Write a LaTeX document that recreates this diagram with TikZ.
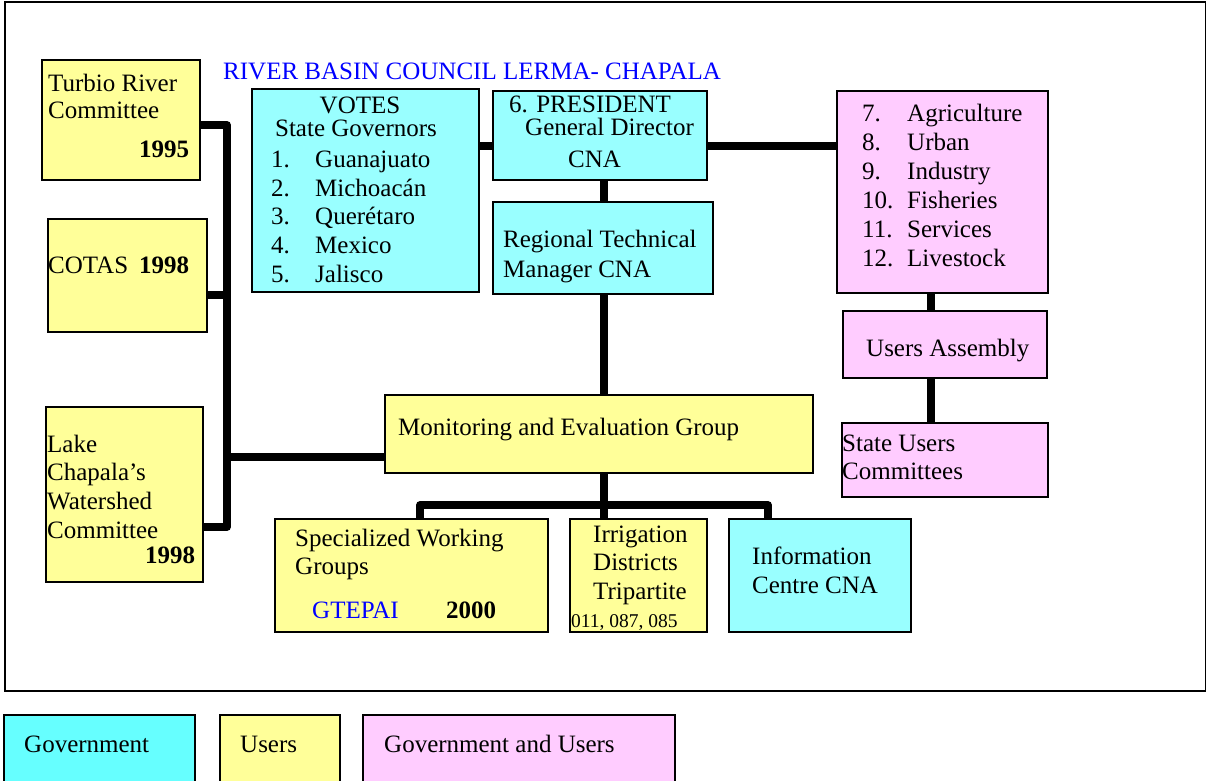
\documentclass[tikz,border=0pt]{standalone}
\usepackage{fontspec}
\setmainfont{Liberation Serif}
\definecolor{govc}{HTML}{99FFFF}
\definecolor{govleg}{HTML}{66FFFF}
\definecolor{usrc}{HTML}{FFFF99}
\definecolor{bothc}{HTML}{FFCCFF}
\definecolor{titleblue}{HTML}{0000FF}
\begin{document}
\begin{tikzpicture}[x=1pt,y=-1pt,
  box/.style={draw,line width=1.4pt,anchor=north west,inner sep=0,outer sep=0},
  gov/.style={box,fill=govc},
  usr/.style={box,fill=usrc},
  both/.style={box,fill=bothc},
  txt/.style={anchor=base west,inner sep=0,font=\fontsize{25}{29}\selectfont},
  ctxt/.style={txt,anchor=base},
  btxt/.style={txt,font=\fontsize{25}{29}\selectfont\bfseries},
  stxt/.style={txt,font=\fontsize{19.5}{23}\selectfont},
  link/.style={line width=7.5pt}]
\clip (0,0) rectangle (1206,780);
\useasboundingbox (0,0) rectangle (1206,780);
\fill[white] (0,0) rectangle (1206,780);
\node[draw,line width=1.6pt,anchor=north west,inner sep=0,minimum width=1201pt,minimum height=689pt] (frame) at (4,1) {};

% boxes
\node[usr,minimum width=158pt,minimum height=120pt] (turbio) at (42,60) {};
\node[usr,minimum width=159pt,minimum height=113pt] (cotas) at (48,219) {};
\node[usr,minimum width=157pt,minimum height=175pt] (lake) at (46,407) {};
\node[gov,minimum width=227pt,minimum height=203pt] (votes) at (252,89) {};
\node[gov,minimum width=214pt,minimum height=89pt] (pres) at (493,91) {};
\node[gov,minimum width=220pt,minimum height=92pt] (reg) at (493,202) {};
\node[both,minimum width=211pt,minimum height=202pt] (pink) at (837,91) {};
\node[both,minimum width=204pt,minimum height=67pt] (ua) at (843,311) {};
\node[both,minimum width=206pt,minimum height=74pt] (suc) at (842,423) {};
\node[usr,minimum width=428pt,minimum height=78pt] (mon) at (385,395) {};
\node[usr,minimum width=273pt,minimum height=113pt] (spec) at (275,519) {};
\node[usr,minimum width=137pt,minimum height=113pt] (irr) at (570,519) {};
\node[gov,minimum width=182pt,minimum height=113pt] (info) at (729,519) {};
\node[box,fill=govleg,minimum width=191pt,minimum height=80pt] (lg) at (4,715) {};
\node[usr,minimum width=120pt,minimum height=80pt] (lu) at (220,715) {};
\node[both,minimum width=312pt,minimum height=80pt] (lb) at (363,715) {};

% connectors
\coordinate (bt) at (227,125);
\coordinate (bb) at (227,527);
\draw[link,line join=round] (turbio.east |- bt) -- (bt) -- (bb) -- (lake.east |- bb);
\draw[link] (cotas.east |- 0,295) -- (bt |- 0,295);
\draw[link] (bt |- 0,457) -- (mon.west |- 0,457);
\draw[link] (votes.east |- 0,146) -- (pres.west |- 0,146);
\draw[link] (pres.east |- 0,146) -- (pink.west |- 0,146);
\draw[link] (pres.south -| 604,0) -- (reg.north -| 604,0);
\draw[link] (reg.south -| 604,0) -- (mon.north -| 604,0);
\draw[link] (mon.south -| 604,0) -- (irr.north -| 604,0);
\coordinate (bl) at (420,505);
\coordinate (br) at (768,505);
\draw[link,line join=round] (spec.north -| bl) -- (bl) -- (br) -- (info.north -| br);
\draw[link] (pink.south -| 931,0) -- (ua.north -| 931,0);
\draw[link] (ua.south -| 931,0) -- (suc.north -| 931,0);

% texts
\node[txt,text=titleblue] (title) at (223,79) {RIVER BASIN COUNCIL LERMA- CHAPALA};
\node[txt] (tu1) at (48,91) {Turbio River};
\node[txt] (tu2) at (48,118) {Committee};
\node[btxt] (tu3) at (139,157) {1995};
\node[txt] (co1) at (48,273) {COTAS};
\node[btxt] (co2) at (139,273) {1998};
\node[txt] (la1) at (47,452) {Lake};
\node[txt] (la2) at (47,480) {Chapala’s};
\node[txt] (la3) at (47,509) {Watershed};
\node[txt] (la4) at (47,538) {Committee};
\node[btxt] (la5) at (145,563) {1998};
\node[ctxt] (vo1) at (360,113) {VOTES};
\node[ctxt] (vo2) at (356,136) {State Governors};
\node[txt] (vn1) at (271,167) {1.};
\node[txt] (vs1) at (315,167) {Guanajuato};
\node[txt] (vn2) at (271,196) {2.};
\node[txt] (vs2) at (315,196) {Michoacán};
\node[txt] (vn3) at (271,224) {3.};
\node[txt] (vs3) at (315,224) {Querétaro};
\node[txt] (vn4) at (271,253) {4.};
\node[txt] (vs4) at (315,253) {Mexico};
\node[txt] (vn5) at (271,282) {5.};
\node[txt] (vs5) at (315,282) {Jalisco};
\node[txt] (pr1) at (509,112) {6. PRESIDENT};
\node[txt] (pr2) at (525,135) {General Director};
\node[txt] (pr3) at (568,167) {CNA};
\node[txt] (re1) at (503,247) {Regional Technical};
\node[txt] (re2) at (503,277) {Manager CNA};
\node[txt] (pn1) at (862,121) {7.};
\node[txt] (ps1) at (907,121) {Agriculture};
\node[txt] (pn2) at (862,150) {8.};
\node[txt] (ps2) at (907,150) {Urban};
\node[txt] (pn3) at (862,179) {9.};
\node[txt] (ps3) at (907,179) {Industry};
\node[txt] (pn4) at (862,208) {10.};
\node[txt] (ps4) at (907,208) {Fisheries};
\node[txt] (pn5) at (862,237) {11.};
\node[txt] (ps5) at (907,237) {Services};
\node[txt] (pn6) at (862,266) {12.};
\node[txt] (ps6) at (907,266) {Livestock};
\node[txt] (ua1) at (866,356) {Users Assembly};
\node[txt] (su1) at (842,451) {State Users};
\node[txt] (su2) at (842,479) {Committees};
\node[txt] (mo1) at (398,435) {Monitoring and Evaluation Group};
\node[txt] (sp1) at (295,546) {Specialized Working};
\node[txt] (sp2) at (295,574) {Groups};
\node[txt,text=titleblue] (sp3) at (312,618) {GTEPAI};
\node[btxt] (sp4) at (446,618) {2000};
\node[txt] (ir1) at (593,542) {Irrigation};
\node[txt] (ir2) at (593,570) {Districts};
\node[txt] (ir3) at (593,599) {Tripartite};
\node[stxt] (ir4) at (571,627) {011, 087, 085};
\node[txt] (in1) at (752,564) {Information};
\node[txt] (in2) at (752,593) {Centre CNA};
\node[txt] (lg1) at (24,752) {Government};
\node[txt] (lu1) at (240,752) {Users};
\node[txt] (lb1) at (384,752) {Government and Users};
\end{tikzpicture}
\end{document}
